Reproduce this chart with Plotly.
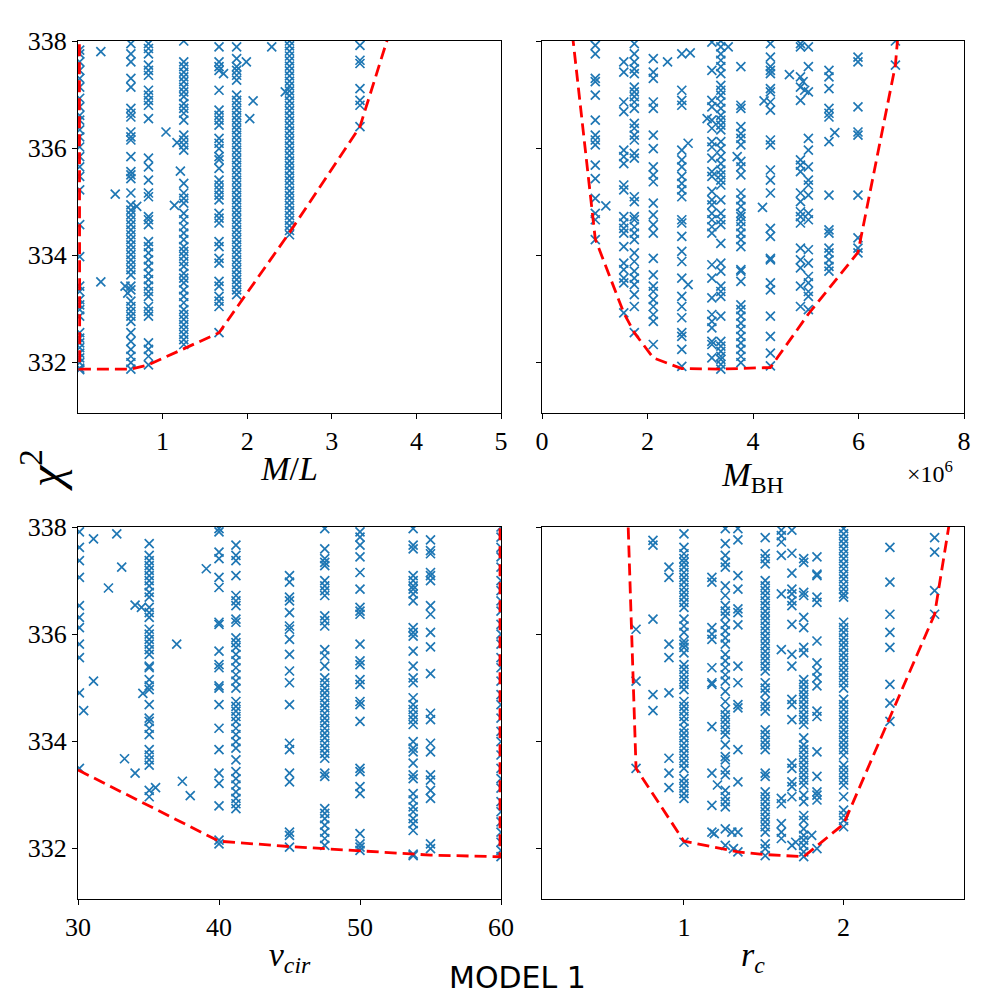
import plotly.graph_objects as go

# --- chi^2 scan values ---

# M/L panel: grid columns and the chi2 values found at each
ML_COLUMNS = [0.02, 0.625, 0.833, 1.25, 1.667, 1.875, 2.5, 3.333]
ML_CHI2 = [
    [337.83, 337.76, 337.61, 337.45, 337.30, 337.14, 336.93, 336.77, 336.61, 336.52, 336.34,
     336.21, 336.02, 335.84, 335.65, 335.47, 335.22, 334.57, 333.97, 333.42, 333.32, 333.17,
     333.07, 332.98, 332.86, 332.55, 332.45, 332.36, 332.27, 332.17, 332.08, 331.99, 331.89, 331.86],
    [337.95, 337.76, 337.61, 337.30, 337.14, 336.74, 336.65, 336.58, 336.30, 336.21, 336.15,
     335.84, 335.56, 335.50, 335.43, 335.16, 334.94, 334.84, 334.75, 334.66, 334.57, 334.47,
     334.38, 334.29, 334.19, 334.10, 334.01, 333.91, 333.82, 333.73, 333.63, 333.42, 333.35,
     333.14, 333.04, 332.95, 332.86, 332.76, 332.55, 332.39, 332.24, 332.11, 331.99, 331.87],
    [337.95, 337.86, 337.76, 337.55, 337.45, 337.36, 337.08, 336.99, 336.89, 336.80, 336.55,
     335.81, 335.65, 335.40, 335.16, 335.09, 334.72, 334.66, 334.57, 334.25, 334.16, 334.04,
     333.91, 333.79, 333.66, 333.54, 333.42, 333.32, 333.23, 333.04, 332.95, 332.86, 332.36,
     332.24, 332.11, 331.95],
    [338.0, 337.61, 337.52, 337.42, 337.33, 337.24, 337.14, 337.05, 336.96, 336.83, 336.74,
     336.65, 336.52, 336.24, 336.15, 336.06, 335.96, 335.34, 335.16, 335.06, 334.97, 334.78,
     334.66, 334.53, 334.41, 334.29, 334.16, 334.07, 333.98, 333.88, 333.79, 333.66, 333.57,
     333.48, 333.35, 333.23, 333.11, 332.98, 332.89, 332.80, 332.70, 332.61, 332.52, 332.42, 332.33],
    [337.89, 337.61, 337.52, 337.45, 337.08, 336.71, 336.61, 336.52, 336.43, 336.18, 336.09,
     335.99, 335.84, 335.78, 335.62, 335.40, 335.31, 335.22, 335.12, 335.03, 334.78, 334.69,
     334.60, 334.25, 334.16, 333.94, 333.85, 333.51, 333.42, 333.23, 333.14, 333.04, 332.55],
    [337.89, 337.67, 337.52, 337.45, 337.36, 337.27, 336.99, 336.89, 336.80, 336.71, 336.61,
     336.52, 336.43, 336.34, 336.24, 336.15, 336.06, 335.96, 335.87, 335.78, 335.68, 335.59,
     335.50, 335.40, 335.31, 335.22, 335.12, 335.03, 334.94, 334.84, 334.75, 334.66, 334.57,
     334.47, 334.38, 334.29, 334.19, 334.10, 334.01, 333.91, 333.82, 333.73, 333.63, 333.54,
     333.45, 333.35, 333.26],
    [338.0, 337.91, 337.81, 337.72, 337.63, 337.53, 337.44, 337.35, 337.25, 337.16, 337.07,
     336.98, 336.88, 336.79, 336.70, 336.60, 336.51, 336.42, 336.32, 336.23, 336.14, 336.04,
     335.95, 335.86, 335.76, 335.67, 335.58, 335.48, 335.39, 335.30, 335.20, 335.11, 335.02,
     334.93, 334.83, 334.74, 334.65, 334.55, 334.46, 334.38],
    [337.92, 337.64, 337.58, 337.11, 336.89, 336.80, 336.40],
]
ML_STRAY_X = [0.27, 0.27, 0.44, 0.556, 0.588, 0.694, 1.04, 1.17, 1.14, 1.21, 1.72, 1.99, 2.07, 2.03, 2.29, 2.45]
ML_STRAY_Y = [337.80, 333.50, 335.14, 333.42, 333.29, 334.91, 336.30, 336.10, 334.93, 335.57,
              337.39, 337.61, 336.88, 336.55, 337.89, 337.05]
ML_ENV_X = [0.012, 0.02, 0.625, 0.833, 1.667, 2.5, 3.333, 3.75]
ML_ENV_Y = [345.0, 331.87, 331.87, 331.95, 332.55, 334.42, 336.40, 338.5]

# M_BH panel (units of 1e6)
BH_COLUMNS = [1.01, 1.55, 1.75, 2.11, 2.65, 3.22, 3.39, 3.77, 4.33, 4.90, 5.05, 5.44, 5.99, 6.70]
BH_CHI2 = [
    [337.92, 337.76, 337.30, 337.24, 336.99, 336.52, 336.24, 336.15, 336.06, 335.68, 335.43,
     335.06, 334.78, 334.66, 334.29],
    [337.61, 337.42, 336.86, 336.68, 335.96, 335.84, 335.71, 335.31, 335.22, 334.72, 334.60,
     334.50, 334.41, 334.16, 333.85, 333.73, 333.57, 333.48, 332.92],
    [337.95, 337.76, 337.61, 337.48, 337.39, 337.14, 337.05, 336.96, 336.86, 336.74, 336.46,
     336.37, 336.24, 336.15, 335.90, 335.81, 335.09, 335.00, 334.72, 334.66, 334.53, 334.41,
     334.29, 334.04, 333.88, 333.70, 333.57, 333.45, 333.26, 333.04, 332.55],
    [337.67, 337.42, 337.30, 336.86, 336.74, 336.24, 335.99, 335.65, 335.50, 335.37, 334.97,
     334.75, 334.57, 334.41, 333.94, 333.63, 333.42, 333.32, 333.17, 333.04, 332.89, 332.76, 332.33],
    [337.76, 337.08, 336.89, 336.80, 335.96, 335.78, 335.65, 335.47, 335.34, 335.22, 335.09,
     334.66, 334.60, 334.35, 334.07, 333.88, 333.57, 333.23, 333.04, 332.83, 332.55, 332.48,
     332.24, 331.92],
    [337.98, 337.45, 336.89, 336.77, 336.52, 336.37, 336.12, 336.02, 335.81, 335.56, 335.47,
     335.19, 335.03, 334.94, 334.78, 334.66, 334.53, 334.41, 333.82, 333.57, 333.20, 332.89,
     332.76, 332.64, 332.39, 332.33, 332.08],
    [338.0, 337.89, 337.76, 337.64, 337.52, 337.39, 337.17, 337.08, 336.99, 336.86, 336.74,
     336.61, 336.52, 336.43, 336.34, 336.12, 335.99, 335.84, 335.71, 335.59, 335.50, 335.40,
     335.31, 335.03, 334.78, 334.66, 334.57, 334.22, 333.85, 333.70, 333.42, 333.32, 333.23,
     332.86, 332.39, 332.30, 332.20, 332.11, 332.05, 331.96, 331.87],
    [337.52, 336.80, 336.74, 336.40, 336.27, 336.18, 336.06, 335.75, 335.65, 335.50, 335.16,
     335.03, 334.91, 334.78, 334.72, 334.63, 334.53, 334.41, 334.29, 334.16, 333.73, 333.70,
     333.51, 333.07, 332.98, 332.86, 332.73, 332.61, 332.48, 332.36, 332.24, 332.11, 331.99],
    [337.95, 337.70, 337.52, 337.45, 337.39, 337.11, 337.05, 336.86, 336.71, 336.15, 336.06,
     335.59, 335.40, 335.16, 334.50, 334.35, 333.94, 333.91, 333.48, 333.35, 332.86, 332.48,
     332.17, 331.93],
    [337.95, 337.89, 337.33, 337.14, 336.89, 335.78, 335.68, 335.56, 335.16, 335.00, 334.81,
     334.72, 334.60, 334.13, 333.91, 333.76, 333.42, 333.04],
    [337.89, 337.52, 337.05, 336.18, 335.96, 335.65, 335.40, 335.31, 335.12, 334.78, 334.66,
     334.10, 333.85, 333.60, 333.48, 333.32, 333.23, 332.98],
    [337.45, 337.33, 337.11, 336.74, 336.65, 336.58, 336.12, 335.12, 334.47, 334.41, 334.13,
     334.04, 333.91, 333.79, 333.70],
    [337.70, 337.61, 336.77, 336.30, 336.24, 335.12, 334.32, 334.13, 334.04],
    [338.0, 337.55],
]
BH_STRAY_X = [1.21, 2.38, 2.81, 2.77, 2.77, 3.13, 3.53, 3.70, 4.21, 4.18, 4.69, 4.95, 4.98, 5.55]
BH_STRAY_Y = [334.92, 337.61, 337.78, 336.09, 333.45, 336.55, 337.89, 335.84, 336.88, 334.89,
              337.37, 337.24, 337.08, 336.29]
BH_ENV_X = [0.5, 1.01, 1.55, 1.75, 2.11, 2.65, 3.39, 4.33, 5.05, 5.99, 6.70, 6.78]
BH_ENV_Y = [338.8, 334.30, 332.92, 332.55, 332.08, 331.88, 331.87, 331.90, 332.90, 334.05, 337.55, 338.5]

# v_cir panel
VC_COLUMNS = [30.1, 35.05, 40.0, 41.2, 45.0, 47.5, 50.0, 53.77, 55.0, 60.0]
VC_CHI2 = [
    [337.91, 337.62, 337.37, 337.06, 336.53, 336.31, 336.12, 335.81, 335.56, 334.90, 333.49],
    [337.69, 337.47, 337.37, 337.28, 337.19, 337.09, 337.00, 336.90, 336.78, 336.69, 336.50,
     336.40, 336.31, 336.09, 336.00, 335.90, 335.81, 335.71, 335.62, 335.40, 335.37, 335.15,
     335.03, 334.96, 334.68, 334.43, 334.37, 334.24, 334.12, 333.84, 333.74, 333.65, 333.55,
     333.08, 332.96],
    [337.97, 337.91, 337.53, 337.41, 337.06, 336.87, 336.22, 336.18, 335.68, 335.43, 335.37,
     335.03, 334.99, 334.68, 334.24, 333.84, 333.40, 333.21, 332.79, 332.15, 332.08],
    [337.66, 337.47, 337.37, 337.09, 336.72, 336.62, 336.53, 336.28, 336.22, 335.93, 335.84,
     335.75, 335.62, 335.50, 335.37, 335.24, 335.12, 334.99, 334.74, 334.65, 334.56, 334.46,
     334.37, 334.24, 334.12, 333.99, 333.87, 333.65, 333.43, 333.30, 333.18, 333.05, 332.93,
     332.83, 332.74],
    [337.09, 336.97, 336.69, 336.62, 336.40, 336.15, 336.09, 335.90, 335.62, 335.31, 335.09,
     334.68, 333.96, 333.84, 333.40, 333.24, 332.30, 332.24, 332.02],
    [337.97, 337.59, 337.41, 337.34, 337.28, 337.00, 336.90, 336.81, 336.72, 336.34, 336.25,
     336.15, 335.71, 335.59, 335.40, 335.18, 335.09, 334.99, 334.90, 334.81, 334.71, 334.62,
     334.52, 334.43, 334.34, 334.24, 334.15, 334.06, 333.96, 333.87, 333.77, 333.68, 333.40,
     333.34, 332.74, 332.65, 332.55, 332.43, 332.30, 332.18, 332.05],
    [337.91, 337.81, 337.66, 337.44, 337.15, 336.84, 336.50, 336.43, 336.37, 335.81, 335.50,
     335.43, 335.15, 335.06, 334.74, 334.68, 334.37, 333.49, 333.43, 333.15, 333.02, 332.27,
     332.08, 332.02, 331.96],
    [337.97, 337.66, 337.59, 337.09, 337.00, 336.90, 336.84, 336.75, 336.62, 336.12, 336.03,
     335.96, 335.68, 335.40, 335.18, 335.09, 334.81, 334.68, 334.59, 334.49, 334.40, 334.31,
     333.99, 333.87, 333.80, 333.59, 333.37, 333.30, 333.02, 332.90, 332.77, 332.68, 332.55,
     332.46, 332.33, 331.89, 331.86],
    [337.76, 337.56, 337.50, 337.15, 337.09, 337.00, 336.53, 336.37, 336.03, 335.76, 335.26,
     334.52, 334.40, 333.96, 333.80, 333.37, 333.27, 333.08, 332.93, 332.08, 331.99],
    [338.0, 337.81, 337.62, 337.44, 337.25, 337.00, 336.81, 336.62, 336.43, 336.18, 336.00,
     335.81, 335.56, 335.37, 335.12, 334.87, 334.68, 334.43, 334.18, 333.99, 333.74, 333.49,
     333.30, 333.12, 332.87, 332.68, 332.49, 332.30, 332.11, 331.96, 331.84],
]
VC_STRAY_X = [30.4, 31.1, 31.1, 32.16, 32.75, 33.1, 33.3, 34.05, 34.05, 34.5, 34.6, 35.5, 37.0, 37.4, 37.96, 39.1]
VC_STRAY_Y = [334.57, 337.78, 335.12, 336.86, 337.87, 337.25, 333.67, 336.54, 333.40, 336.50,
              334.89, 333.13, 335.81, 333.25, 332.98, 337.22]
VC_ENV_X = [30.0, 40.0, 45.0, 47.5, 50.0, 53.77, 55.0, 59.93, 59.93]
VC_ENV_Y = [333.46, 332.13, 332.03, 331.99, 331.95, 331.88, 331.87, 331.84, 345.0]

# r_c panel
RC_COLUMNS = [0.70, 0.806, 0.906, 1.0, 1.175, 1.259, 1.338, 1.509, 1.61, 1.676, 1.75, 1.833, 2.0, 2.29, 2.57]
RC_CHI2 = [
    [336.09, 335.12, 333.49],
    [337.75, 337.66, 336.28, 334.87, 334.57],
    [337.25, 337.06, 335.81, 335.56, 334.90, 333.68, 333.40, 333.13],
    [337.87, 337.62, 337.50, 337.41, 337.34, 337.25, 337.15, 337.06, 336.97, 336.87, 336.78,
     336.69, 336.59, 336.50, 336.28, 336.15, 336.03, 335.87, 335.81, 335.75, 335.65, 335.43,
     335.34, 335.24, 335.15, 335.06, 334.96, 334.74, 334.65, 334.56, 334.46, 334.37, 334.24,
     334.15, 334.06, 333.96, 333.87, 333.77, 333.68, 333.59, 333.49, 333.30, 333.21, 333.12,
     333.02, 332.93, 332.11],
    [337.06, 336.97, 336.12, 336.00, 335.90, 335.37, 335.09, 335.06, 334.27, 333.40, 332.80, 332.30],
    [337.97, 337.69, 337.47, 337.34, 337.25, 336.90, 336.72, 336.53, 336.43, 336.34, 336.18,
     336.06, 335.93, 335.81, 335.62, 335.50, 335.37, 335.24, 335.12, 334.93, 334.74, 334.59,
     334.49, 334.40, 334.31, 334.21, 334.12, 333.93, 333.71, 333.65, 333.46, 333.37, 333.08,
     332.96, 332.87, 332.77, 332.36, 332.05],
    [337.97, 337.76, 337.09, 336.84, 336.47, 336.40, 336.17, 335.40, 335.09, 334.68, 334.62,
     333.84, 333.24, 332.30, 331.93],
    [337.80, 337.50, 337.41, 337.31, 337.00, 336.90, 336.81, 336.72, 336.62, 336.53, 336.43,
     336.34, 336.25, 336.15, 336.06, 335.96, 335.87, 335.78, 335.68, 335.59, 335.50, 335.40,
     335.31, 335.09, 334.99, 334.90, 334.74, 334.65, 334.56, 334.21, 334.12, 334.02, 333.93,
     333.84, 333.40, 333.34, 333.05, 332.96, 332.87, 332.77, 332.68, 332.58, 332.49, 332.40,
     332.30, 332.08, 331.99, 331.86],
    [337.94, 337.84, 337.72, 337.47, 336.75, 335.71, 332.93, 332.83, 332.46, 332.30, 332.18],
    [337.94, 337.51, 337.14, 336.84, 336.75, 336.62, 336.53, 336.18, 335.62, 335.40, 334.78,
     334.68, 334.40, 333.59, 333.49, 333.24, 333.15, 332.96, 332.05],
    [337.41, 337.34, 336.78, 336.72, 336.31, 336.12, 335.75, 335.65, 335.15, 335.06, 334.96,
     334.87, 334.78, 334.68, 334.59, 334.49, 334.40, 334.31, 334.06, 333.93, 333.84, 333.74,
     333.65, 333.55, 333.46, 333.37, 333.27, 333.18, 332.99, 332.87, 332.61, 332.52, 332.36,
     332.24, 332.15, 332.05, 331.93, 331.84],
    [337.44, 337.12, 337.09, 336.69, 336.59, 335.87, 335.46, 335.31, 335.18, 335.03, 334.56,
     334.46, 333.80, 333.34, 333.05, 332.99, 332.90, 331.99],
    [337.97, 337.87, 337.78, 337.69, 337.59, 337.50, 337.41, 337.31, 337.22, 337.12, 337.03,
     336.93, 336.84, 336.75, 336.69, 336.22, 336.12, 336.03, 335.93, 335.84, 335.75, 335.65,
     335.56, 335.46, 335.37, 335.28, 335.18, 335.09, 334.99, 334.78, 334.68, 334.59, 334.49,
     334.40, 334.31, 334.21, 334.12, 334.02, 333.93, 333.84, 333.74, 333.55, 333.46, 333.37,
     333.27, 333.18, 332.96, 332.71, 332.61, 332.52, 332.40],
    [337.62, 336.97, 336.37, 336.03, 335.75, 335.06, 334.71, 334.37],
    [337.80, 337.53, 336.81, 336.37],
]
RC_STRAY_X = [1.21, 1.19, 1.30, 1.31, 1.70, 1.80]
RC_STRAY_Y = [333.18, 332.27, 332.30, 331.99, 332.11, 332.24]
RC_ENV_X = [0.64, 0.70, 1.0, 1.338, 1.509, 1.676, 1.75, 2.0, 2.57, 2.68]
RC_ENV_Y = [339.0, 333.49, 332.13, 331.93, 331.88, 331.85, 331.84, 332.45, 336.37, 338.4]

BLUE = "#1f77b4"
SERIF = "Liberation Serif"


def expand(columns, chi2, stray_x, stray_y):
    xs, ys = [], []
    for x, vals in zip(columns, chi2):
        xs += [x] * len(vals)
        ys += vals
    return xs + stray_x, ys + stray_y


panels = [
    (ML_COLUMNS, ML_CHI2, ML_STRAY_X, ML_STRAY_Y, ML_ENV_X, ML_ENV_Y, "x", "y"),
    (BH_COLUMNS, BH_CHI2, BH_STRAY_X, BH_STRAY_Y, BH_ENV_X, BH_ENV_Y, "x2", "y2"),
    (VC_COLUMNS, VC_CHI2, VC_STRAY_X, VC_STRAY_Y, VC_ENV_X, VC_ENV_Y, "x3", "y3"),
    (RC_COLUMNS, RC_CHI2, RC_STRAY_X, RC_STRAY_Y, RC_ENV_X, RC_ENV_Y, "x4", "y4"),
]

fig = go.Figure()
for cols, chi2, sx, sy, ex, ey, xa, ya in panels:
    px_, py_ = expand(cols, chi2, sx, sy)
    fig.add_trace(go.Scatter(
        x=px_, y=py_, mode="markers", xaxis=xa, yaxis=ya, showlegend=False,
        marker=dict(symbol="x-thin", size=9, line=dict(color=BLUE, width=1.7), color=BLUE),
    ))
    fig.add_trace(go.Scatter(
        x=ex, y=ey, mode="lines", xaxis=xa, yaxis=ya, showlegend=False,
        line=dict(color="red", width=2.8, dash="12px,6px"),
    ))

TOP = [0.587, 0.959]
BOTTOM = [0.101, 0.473]
LEFT = [0.078, 0.501]
RIGHT = [0.542, 0.964]
Y_RANGE = [331.05, 338.0]
Y_TICKS = [332, 334, 336, 338]

common = dict(
    showline=True, linecolor="black", linewidth=1.2, mirror=True,
    ticks="outside", ticklen=5, tickwidth=1, tickcolor="black",
    showgrid=False, zeroline=False, automargin=False,
    tickfont=dict(family=SERIF, size=26, color="black"),
)
title_font = dict(family=SERIF, size=34, color="black")

fig.update_layout(
    width=1000, height=1000,
    margin=dict(l=0, r=0, t=0, b=0, autoexpand=False),
    paper_bgcolor="white", plot_bgcolor="white",
    xaxis=dict(domain=LEFT, anchor="y", range=[0, 5], tickvals=[1, 2, 3, 4, 5],
               title=dict(text="<i>M</i>/<i>L</i>", font=title_font, standoff=0), **common),
    yaxis=dict(domain=TOP, anchor="x", range=Y_RANGE, tickvals=Y_TICKS, **common),
    xaxis2=dict(domain=RIGHT, anchor="y2", range=[0, 8], tickvals=[0, 2, 4, 6, 8],
                title=dict(text="<i>M</i><sub>BH</sub>", font=title_font, standoff=0), **common),
    yaxis2=dict(domain=TOP, anchor="x2", range=Y_RANGE, tickvals=Y_TICKS, showticklabels=False, **common),
    xaxis3=dict(domain=LEFT, anchor="y3", range=[30, 60], tickvals=[30, 40, 50, 60],
                title=dict(text="<i>v<sub>cir</sub></i>", font=title_font, standoff=0), **common),
    yaxis3=dict(domain=BOTTOM, anchor="x3", range=Y_RANGE, tickvals=Y_TICKS, **common),
    xaxis4=dict(domain=RIGHT, anchor="y4", range=[0.111, 2.754], tickvals=[1, 2],
                title=dict(text="<i>r<sub>c</sub></i>", font=title_font, standoff=0), **common),
    yaxis4=dict(domain=BOTTOM, anchor="x4", range=Y_RANGE, tickvals=Y_TICKS, showticklabels=False, **common),
)

fig.add_annotation(text="<i>χ</i><sup>2</sup>", x=0.042, y=0.530, xref="paper", yref="paper",
                   xanchor="center", yanchor="middle", showarrow=False, textangle=-90,
                   font=dict(family=SERIF, size=48, color="black"))
fig.add_annotation(text="×10<sup>6</sup>", x=0.930, y=0.528, xref="paper", yref="paper",
                   xanchor="center", yanchor="middle", showarrow=False,
                   font=dict(family=SERIF, size=24, color="black"))
fig.add_annotation(text="MODEL 1", x=0.517, y=0.023, xref="paper", yref="paper",
                   xanchor="center", yanchor="middle", showarrow=False,
                   font=dict(family="DejaVu Sans", size=30, color="black"))

# the page body has a default 8px margin; drop it so the figure sits at the window corner
fig.write_html("out.html", config={"displayModeBar": False},
               post_script="document.body.style.margin='0px';")
